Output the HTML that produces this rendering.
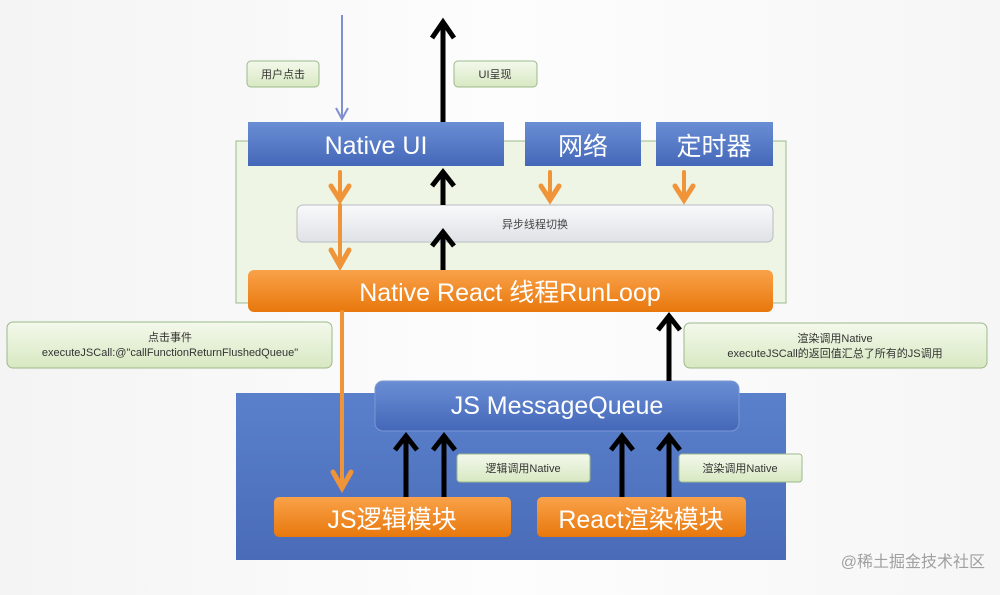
<!DOCTYPE html>
<html><head><meta charset="utf-8"><style>
body{margin:0;width:1000px;height:590px;overflow:hidden;background:linear-gradient(90deg,#f4f4f4,#fdfdfd 50%,#f6f6f6);font-family:"Liberation Sans","Noto Sans CJK SC",sans-serif;}
</style></head><body>
<svg width="1000" height="590" viewBox="0 0 1000 590" xmlns="http://www.w3.org/2000/svg" font-family="Liberation Sans, Noto Sans CJK SC, sans-serif">
<defs>
<linearGradient id="gb" x1="0" y1="0" x2="0" y2="1"><stop offset="0" stop-color="#6a8ed4"/><stop offset="1" stop-color="#4468b8"/></linearGradient>
<linearGradient id="go" x1="0" y1="0" x2="0" y2="1"><stop offset="0" stop-color="#f9a24a"/><stop offset="1" stop-color="#e8780c"/></linearGradient>
<linearGradient id="gl" x1="0" y1="0" x2="0" y2="1"><stop offset="0" stop-color="#f4f9ec"/><stop offset="1" stop-color="#d8e8c2"/></linearGradient>
<linearGradient id="gg" x1="0" y1="0" x2="0" y2="1"><stop offset="0" stop-color="#f8f9fa"/><stop offset="1" stop-color="#dfe2e6"/></linearGradient>
<linearGradient id="gp" x1="0" y1="0" x2="0" y2="1"><stop offset="0" stop-color="#5a80cc"/><stop offset="1" stop-color="#4a6cb8"/></linearGradient>
</defs>
<!-- green panel -->
<rect x="236" y="141" width="550" height="162" fill="#eef5e4" stroke="#9bb98a" stroke-width="1"/>
<!-- blue panel -->
<rect x="236" y="393" width="550" height="167" fill="url(#gp)"/>
<!-- labels top -->
<rect x="247" y="61" width="72" height="26" rx="4" fill="url(#gl)" stroke="#9bb98a"/>
<text x="283" y="78" font-size="11" text-anchor="middle" fill="#333">用户点击</text>
<rect x="454" y="61" width="83" height="26" rx="4" fill="url(#gl)" stroke="#9bb98a"/>
<text x="495" y="78" font-size="11" text-anchor="middle" fill="#333">UI呈现</text>
<!-- blue thin arrow -->
<line x1="342" y1="15" x2="342" y2="118" stroke="#7f8fd0" stroke-width="2"/>
<polyline points="336,108 342,119 348,108" fill="none" stroke="#7f8fd0" stroke-width="2"/>
<!-- top boxes -->
<rect x="248" y="122" width="256" height="44" fill="url(#gb)"/>
<text x="376" y="154" font-size="25" text-anchor="middle" fill="#fff">Native UI</text>
<rect x="525" y="122" width="116" height="44" fill="url(#gb)"/>
<text x="583" y="155" font-size="25" text-anchor="middle" fill="#fff">网络</text>
<rect x="656" y="122" width="117" height="44" fill="url(#gb)"/>
<text x="714" y="155" font-size="25" text-anchor="middle" fill="#fff">定时器</text>
<!-- async bar -->
<rect x="297" y="205" width="476" height="37" rx="6" fill="url(#gg)" stroke="#b8bcc2"/>
<text x="535" y="228" font-size="11" text-anchor="middle" fill="#444">异步线程切换</text>
<!-- runloop -->
<rect x="248" y="270" width="525" height="42" rx="6" fill="url(#go)"/>
<text x="510" y="301" font-size="25" text-anchor="middle" fill="#fff">Native React 线程RunLoop</text>
<!-- MQ -->
<rect x="375" y="381" width="364" height="50" rx="8" fill="url(#gb)" stroke="#7a97d4"/>
<text x="557" y="414" font-size="25" text-anchor="middle" fill="#fff">JS MessageQueue</text>
<!-- bottom modules -->
<rect x="274" y="497" width="237" height="40" rx="5" fill="url(#go)"/>
<text x="392" y="528" font-size="25" text-anchor="middle" fill="#fff">JS逻辑模块</text>
<rect x="537" y="497" width="209" height="40" rx="5" fill="url(#go)"/>
<text x="641" y="528" font-size="25" text-anchor="middle" fill="#fff">React渲染模块</text>
<!-- side labels -->
<rect x="7" y="322" width="325" height="46" rx="6" fill="url(#gl)" stroke="#9bb98a"/>
<text x="170" y="341" font-size="11" text-anchor="middle" fill="#333">点击事件</text>
<text x="170" y="356" font-size="11" text-anchor="middle" fill="#333">executeJSCall:@"callFunctionReturnFlushedQueue"</text>
<rect x="684" y="323" width="303" height="45" rx="6" fill="url(#gl)" stroke="#9bb98a"/>
<text x="835" y="342" font-size="11" text-anchor="middle" fill="#333">渲染调用Native</text>
<text x="835" y="357" font-size="11" text-anchor="middle" fill="#333">executeJSCall的返回值汇总了所有的JS调用</text>
<rect x="457" y="454" width="133" height="28" rx="3" fill="url(#gl)" stroke="#9bb98a"/>
<text x="523" y="472" font-size="11" text-anchor="middle" fill="#333">逻辑调用Native</text>
<rect x="679" y="454" width="123" height="28" rx="3" fill="url(#gl)" stroke="#9bb98a"/>
<text x="740" y="472" font-size="11" text-anchor="middle" fill="#333">渲染调用Native</text>
<!-- orange arrows -->
<g stroke="#f0943a" fill="none" stroke-linecap="round">
<line x1="340" y1="172" x2="340" y2="200" stroke-width="4"/><polyline points="331,186 340,200 349,186" stroke-width="5"/>
<line x1="340" y1="205" x2="340" y2="266" stroke-width="4"/><polyline points="331,250 340,266 349,250" stroke-width="5"/>
<line x1="550" y1="172" x2="550" y2="200" stroke-width="4"/><polyline points="541,186 550,200 559,186" stroke-width="5"/>
<line x1="684" y1="172" x2="684" y2="200" stroke-width="4"/><polyline points="675,186 684,200 693,186" stroke-width="5"/>
<line x1="342" y1="312" x2="342" y2="488" stroke-width="4"/><polyline points="333,472 342,488 351,472" stroke-width="5"/>
</g>
<!-- black arrows -->
<g stroke="#000" fill="none" stroke-width="5" stroke-linejoin="miter">
<line x1="443" y1="122" x2="443" y2="22"/><polyline points="432,38 443,22 454,38"/>
<line x1="443" y1="205" x2="443" y2="172"/><polyline points="432,186 443,172 454,186"/>
<line x1="443" y1="270" x2="443" y2="232"/><polyline points="432,246 443,232 454,246"/>
<line x1="669" y1="381" x2="669" y2="316"/><polyline points="658,330 669,316 680,330"/>
<line x1="406" y1="497" x2="406" y2="436"/><polyline points="395,450 406,436 417,450"/>
<line x1="444" y1="497" x2="444" y2="436"/><polyline points="433,450 444,436 455,450"/>
<line x1="622" y1="497" x2="622" y2="436"/><polyline points="611,450 622,436 633,450"/>
<line x1="669" y1="497" x2="669" y2="436"/><polyline points="658,450 669,436 680,450"/>
</g>
<text x="985" y="567" font-size="16" text-anchor="end" fill="#a0a0a0">@稀土掘金技术社区</text>
</svg>
</body></html>
